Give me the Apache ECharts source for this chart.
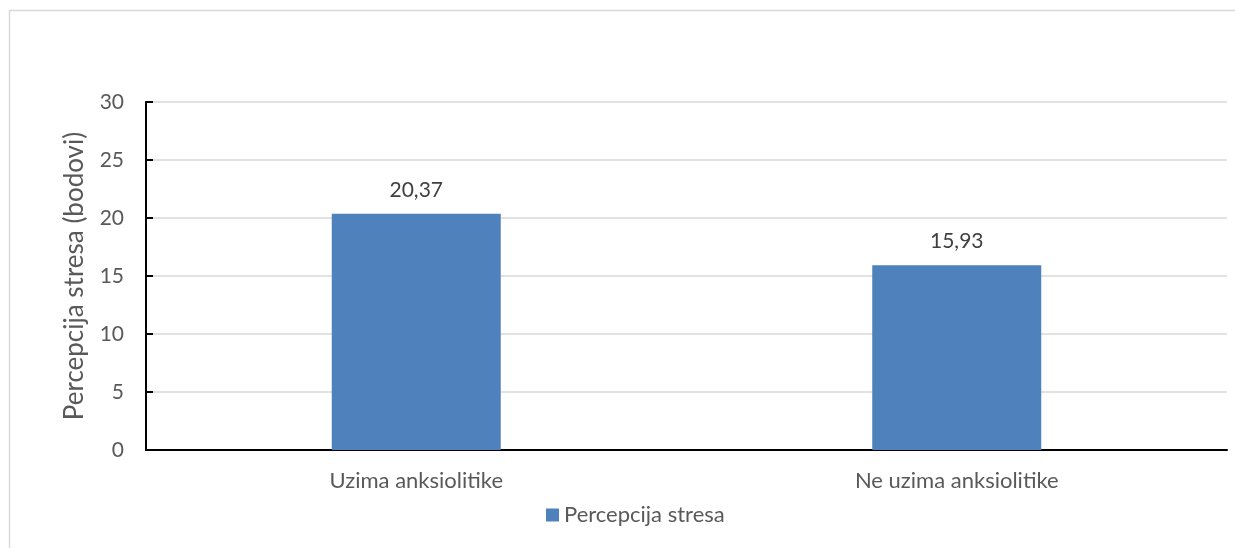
<!DOCTYPE html>
<html><head><meta charset="utf-8">
<script src="https://cdn.jsdelivr.net/npm/echarts@6/dist/echarts.min.js"></script>
<style>html,body{margin:0;padding:0;background:#fff}#c{width:1235px;height:548px}</style>
</head><body><div id="c"></div>
<script>
const categories = ["Uzima anksiolitike", "Ne uzima anksiolitike"];
const seriesName = "Percepcija stresa";
const values = [20.37, 15.93];
const yTicks = [0, 5, 10, 15, 20, 25, 30];
const yTitle = "Percepcija stresa (bodovi)";

const FONT = "Lato";
const chart = echarts.init(document.getElementById('c'), null, {renderer: 'canvas'});
chart.setOption({
  animation: false,
  backgroundColor: '#fff',
  textStyle: {fontFamily: FONT},
  graphic: [{type: 'rect', shape: {x: 9.5, y: 10.5, width: 1240, height: 560}, style: {fill: 'none', stroke: '#d9d9d9', lineWidth: 1.5}, silent: true}],
  legend: {
    bottom: 17, left: 541, itemWidth: 13, itemHeight: 13, itemGap: 6,
    icon: 'rect',
    textStyle: {fontFamily: FONT, fontSize: 22, color: '#595959'},
    data: [seriesName]
  },
  grid: {left: 146, right: 8, top: 102, bottom: 98, containLabel: false},
  xAxis: {
    type: 'category', data: categories,
    axisLine: {lineStyle: {color: '#000', width: 2}},
    axisTick: {show: false},
    axisLabel: {fontFamily: FONT, fontSize: 22, color: '#595959', margin: 20}
  },
  yAxis: {
    type: 'value', min: yTicks[0], max: yTicks[yTicks.length - 1], interval: 5,
    name: yTitle, nameLocation: 'middle', nameGap: 58,
    nameTextStyle: {fontFamily: FONT, fontSize: 26, color: '#595959'},
    axisLine: {show: true, lineStyle: {color: '#000', width: 2}},
    axisTick: {show: true, inside: true, length: 7, lineStyle: {color: '#000', width: 2}},
    axisLabel: {fontFamily: FONT, fontSize: 21, color: '#595959', margin: 22},
    splitLine: {lineStyle: {color: '#d9d9d9', width: 1.5}}
  },
  series: [{
    name: seriesName, type: 'bar', data: values, barWidth: 169,
    itemStyle: {color: '#4f81bd'},
    label: {show: true, position: 'top', distance: 13, fontFamily: FONT, fontSize: 21, color: '#404040',
      formatter: p => p.value.toFixed(2).replace('.', ',')}
  }]
});
</script></body></html>
